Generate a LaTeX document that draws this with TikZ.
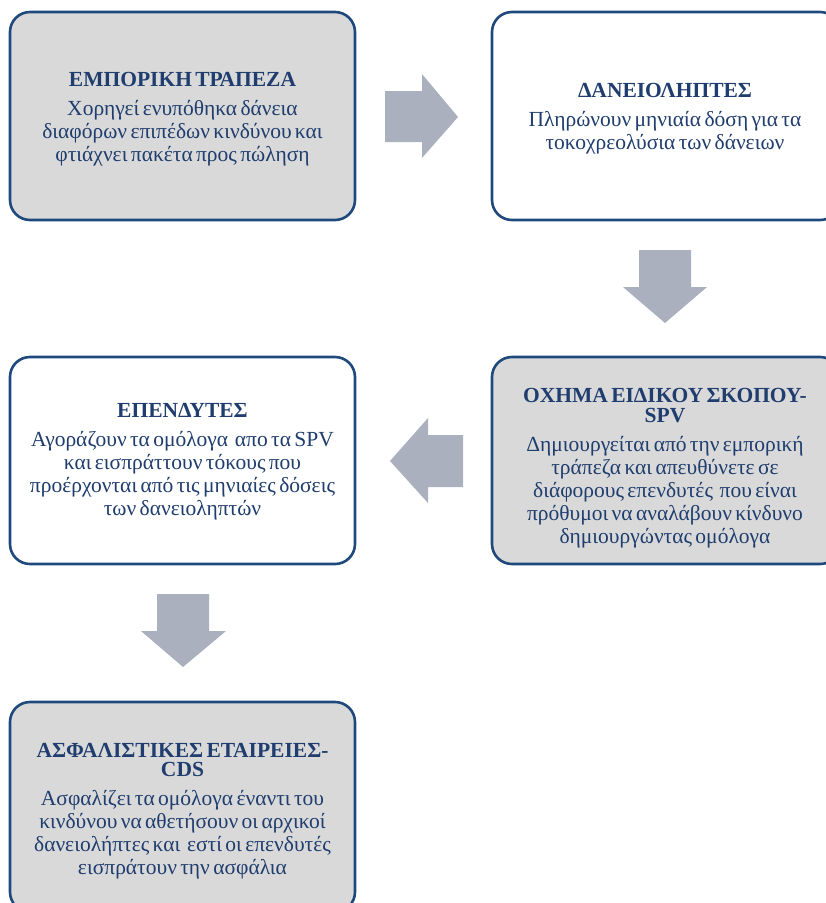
\documentclass[tikz,border=0pt]{standalone}
\usepackage{fontspec}
\setmainfont{Liberation Serif}
\newfontfamily\bodyfam[Script=Greek]{Liberation Serif}
\newfontfamily\headfam[Script=Greek]{Liberation Serif Bold}
\definecolor{bordc}{HTML}{1F497D}
\definecolor{txtc}{HTML}{1F3D6E}
\definecolor{greyf}{HTML}{D9D9D9}
\definecolor{arrc}{HTML}{AAB0BE}
\newcommand{\hdfont}{\headfam\fontsize{21.5}{19.5}\selectfont}
\newcommand{\bdfont}{\bodyfam\fontsize{21.5}{23}\selectfont}
\tikzset{
  box/.style={draw=bordc, line width=2.6pt, rounded corners=20pt},
  greybox/.style={box, fill=greyf},
  whitebox/.style={box, fill=white},
  label/.style={text=txtc, align=center, text width=340pt, inner sep=0pt},
  blockarrow/.style={fill=arrc, draw=none}
}
\begin{document}
\begin{tikzpicture}[x=1pt,y=-1pt]
\useasboundingbox (0,0) rectangle (826,903);
\clip (0,0) rectangle (826,903);
% boxes
\draw[greybox] (10,12) rectangle (355,220);
\draw[whitebox] (492,12) rectangle (840,220);
\draw[greybox] (492,357) rectangle (840,564);
\draw[whitebox] (10,357) rectangle (355,564);
\draw[greybox] (10,702) rectangle (355,912);
% texts
\node[label] (t1) at (182.5,119) {{\hdfont ΕΜΠΟΡΙΚΗ ΤΡΑΠΕΖΑ\par}\vspace{6pt}{\bdfont Χορηγεί ενυπόθηκα δάνεια\\ διαφόρων επιπέδων κινδύνου και\\ φτιάχνει πακέτα προς πώληση\par}};
\node[label] (t2) at (665,119) {{\hdfont ΔΑΝΕΙΟΛΗΠΤΕΣ\par}\vspace{6pt}{\bdfont Πληρώνουν μηνιαία δόση για τα\\ τοκοχρεολύσια των δάνειων\par}};
\node[label] (t3) at (665,468) {{\hdfont ΟΧΗΜΑ ΕΙΔΙΚΟΥ ΣΚΟΠΟΥ-\\ SPV\par}\vspace{6pt}{\bdfont Δημιουργείται από την εμπορική\\ τράπεζα και απευθύνετε σε\\ διάφορους επενδυτές~ που είναι\\ πρόθυμοι να αναλάβουν κίνδυνο\\ δημιουργώντας ομόλογα\par}};
\node[label] (t4) at (182.5,462) {{\hdfont ΕΠΕΝΔΥΤΕΣ\par}\vspace{6pt}{\bdfont Αγοράζουν τα ομόλογα~ απο τα SPV\\ και εισπράττουν τόκους που\\ προέρχονται από τις μηνιαίες δόσεις\\ των δανειοληπτών\par}};
\node[label] (t5) at (182.5,811) {{\hdfont ΑΣΦΑΛΙΣΤΙΚΕΣ ΕΤΑΙΡΕΙΕΣ-\\ CDS\par}\vspace{6pt}{\bdfont Ασφαλίζει τα ομόλογα έναντι του\\ κινδύνου να αθετήσουν οι αρχικοί\\ δανειολήπτες και~ εστί οι επενδυτές\\ εισπράτουν την ασφάλια\par}};
% block arrows
\fill[blockarrow] (385,91) -- (422,91) -- (422,74) -- (458,117) -- (422,158) -- (422,142) -- (385,142) -- cycle;
\fill[blockarrow] (639,250) -- (691,250) -- (691,287) -- (707,287) -- (665,323) -- (623,287) -- (639,287) -- cycle;
\fill[blockarrow] (463,435) -- (428,435) -- (428,418) -- (390,461) -- (428,503) -- (428,487) -- (463,487) -- cycle;
\fill[blockarrow] (157,594) -- (209,594) -- (209,631) -- (226,631) -- (183,667) -- (141,631) -- (157,631) -- cycle;
\end{tikzpicture}
\end{document}
